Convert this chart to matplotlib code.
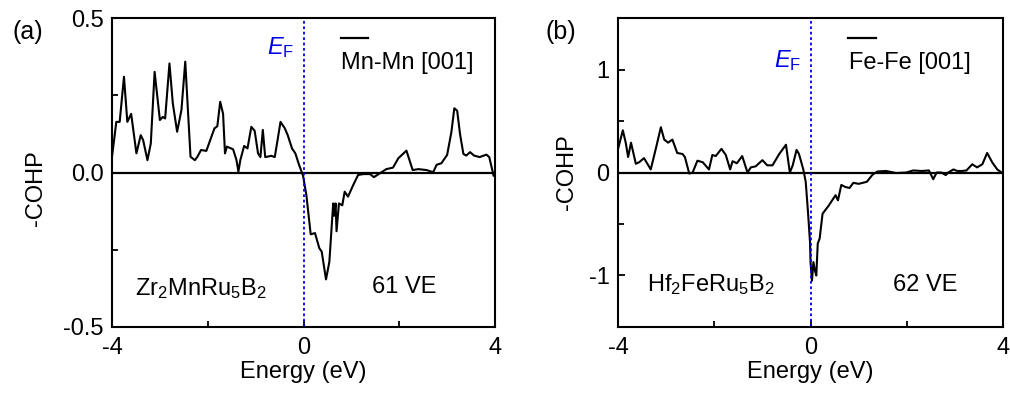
import numpy as np
import matplotlib
matplotlib.use('Agg')
import matplotlib.pyplot as plt
from matplotlib.ticker import MultipleLocator, FormatStrFormatter

plt.rcParams['font.family'] = ['Liberation Sans', 'DejaVu Sans']
plt.rcParams['mathtext.fontset'] = 'custom'
plt.rcParams['mathtext.rm'] = 'Liberation Sans'
plt.rcParams['mathtext.it'] = 'Liberation Sans:italic'
plt.rcParams['axes.unicode_minus'] = False

# -COHP of Mn-Mn [001] in Zr2MnRu5B2
energy_a = [-4.00, -3.91, -3.84, -3.75, -3.68, -3.60, -3.49, -3.40, -3.35, -3.26,
            -3.19, -3.11, -3.00, -2.94, -2.89, -2.80, -2.73, -2.64, -2.55, -2.47,
            -2.41, -2.36, -2.27, -2.22, -2.14, -2.03, -1.86, -1.80, -1.74, -1.68,
            -1.64, -1.60, -1.47, -1.40, -1.36, -1.32, -1.24, -1.17, -1.09, -1.02,
            -0.95, -0.90, -0.85, -0.80, -0.67, -0.60, -0.48, -0.39, -0.33, -0.24,
            -0.17, -0.10, -0.01, 0.06, 0.15, 0.24, 0.33, 0.38, 0.47, 0.54,
            0.62, 0.64, 0.67, 0.69, 0.74, 0.81, 0.86, 0.93, 1.04, 1.14,
            1.25, 1.39, 1.47, 1.60, 1.73, 1.87, 1.98, 2.15, 2.28, 2.40,
            2.57, 2.71, 2.78, 2.88, 3.00, 3.09, 3.15, 3.21, 3.27, 3.34,
            3.40, 3.48, 3.56, 3.68, 3.82, 3.88, 3.97]
cohp_a = [0.051, 0.164, 0.164, 0.310, 0.164, 0.190, 0.062, 0.121, 0.105, 0.040,
          0.094, 0.326, 0.170, 0.180, 0.175, 0.353, 0.224, 0.132, 0.202, 0.359,
          0.190, 0.051, 0.040, 0.050, 0.073, 0.070, 0.143, 0.150, 0.229, 0.190,
          0.062, 0.084, 0.075, 0.040, 0.003, 0.040, 0.086, 0.078, 0.148, 0.135,
          0.062, 0.050, 0.138, 0.050, 0.054, 0.050, 0.164, 0.143, 0.121, 0.078,
          0.062, 0.028, -0.010, -0.073, -0.200, -0.196, -0.245, -0.256, -0.346, -0.289,
          -0.100, -0.140, -0.100, -0.190, -0.100, -0.106, -0.062, -0.078, -0.040, -0.008,
          -0.005, -0.005, -0.015, -0.002, 0.011, 0.016, 0.046, 0.071, 0.008, 0.011,
          0.008, 0.001, 0.025, 0.030, 0.057, 0.132, 0.208, 0.200, 0.124, 0.060,
          0.055, 0.066, 0.055, 0.050, 0.058, 0.050, -0.010]

# -COHP of Fe-Fe [001] in Hf2FeRu5B2
energy_b = [-4.00, -3.96, -3.90, -3.84, -3.79, -3.73, -3.63, -3.56, -3.46, -3.32,
            -3.20, -3.11, -3.04, -2.96, -2.87, -2.77, -2.66, -2.61, -2.52, -2.45,
            -2.35, -2.24, -2.11, -2.04, -1.97, -1.85, -1.76, -1.67, -1.62, -1.53,
            -1.42, -1.31, -1.24, -1.14, -1.00, -0.90, -0.79, -0.65, -0.51, -0.43,
            -0.37, -0.29, -0.24, -0.15, -0.10, -0.05, -0.01, 0.00, 0.03, 0.06,
            0.09, 0.12, 0.15, 0.19, 0.25, 0.38, 0.52, 0.57, 0.64, 0.72,
            0.81, 0.89, 1.00, 1.17, 1.29, 1.39, 1.57, 1.78, 1.99, 2.13,
            2.31, 2.46, 2.55, 2.62, 2.72, 2.81, 2.86, 2.97, 3.05, 3.14,
            3.24, 3.36, 3.46, 3.57, 3.67, 3.78, 3.88, 3.97]
cohp_b = [0.23, 0.30, 0.41, 0.29, 0.15, 0.29, 0.085, 0.10, 0.14, 0.03,
          0.26, 0.44, 0.32, 0.29, 0.32, 0.19, 0.18, 0.15, -0.01, 0.00,
          0.115, 0.10, 0.03, 0.17, 0.16, 0.23, 0.17, 0.03, 0.11, 0.09,
          0.16, 0.00, 0.05, 0.06, 0.12, 0.07, 0.07, 0.18, 0.27, 0.00,
          0.07, 0.22, 0.18, 0.03, -0.09, -0.40, -0.68, -0.87, -1.05, -0.87,
          -0.95, -1.00, -0.69, -0.64, -0.40, -0.32, -0.22, -0.27, -0.12, -0.14,
          -0.15, -0.10, -0.11, -0.09, -0.02, 0.01, 0.015, -0.005, 0.00, 0.02,
          0.015, 0.02, -0.065, 0.00, 0.00, -0.025, 0.00, 0.03, 0.015, 0.015,
          0.02, 0.08, 0.05, 0.08, 0.19, 0.095, 0.03, 0.00]

fs = 17
blue = '#0000e6'

fig = plt.figure(figsize=(10.1, 3.93), dpi=100)
ax1 = fig.add_axes([0.1109, 0.168, 0.3792, 0.786])
ax2 = fig.add_axes([0.6119, 0.168, 0.3812, 0.786])

panels = [
    (ax1, energy_a, cohp_a, (-0.5, 0.5), 0.5, 0.25, '%.1f', 'Mn-Mn [001]',
     r'Zr$_2$MnRu$_5$B$_2$', '61 VE', (0.06, 0.126), (0.678, 0.13), 0.903,
     (-0.17, 0.45)),
    (ax2, energy_b, cohp_b, (-1.5, 1.5), 1.0, 0.5, '%d', 'Fe-Fe [001]',
     r'Hf$_2$FeRu$_5$B$_2$', '62 VE', (0.0745, 0.136), (0.713, 0.136), 0.864,
     (-0.105, 0.5)),
]

for ax, x, y, ylim, major, minor, fmt, bond, formula, ve, fpos, vpos, efy, ylc in panels:
    ax.plot(x, y, color='black', lw=1.5)
    ax.axhline(0, color='black', lw=1.6)
    ax.axvline(0, color=blue, lw=1.3, ls=(0, (1.5, 1.5)))
    ax.set_xlim(-4, 4)
    ax.set_ylim(*ylim)
    ax.xaxis.set_major_locator(MultipleLocator(4))
    ax.xaxis.set_minor_locator(MultipleLocator(2))
    ax.yaxis.set_major_locator(MultipleLocator(major))
    ax.yaxis.set_minor_locator(MultipleLocator(minor))
    ax.yaxis.set_major_formatter(FormatStrFormatter(fmt))
    ax.tick_params(which='both', direction='in', labelsize=fs, width=1.3)
    ax.tick_params(which='major', length=5)
    ax.tick_params(which='minor', length=4)
    ax.tick_params(axis='x', pad=7)
    ax.tick_params(axis='y', pad=6)
    for s in ax.spines.values():
        s.set_linewidth(1.5)
    ax.set_xlabel('Energy (eV)', fontsize=fs, labelpad=2)
    ax.set_ylabel('-COHP', fontsize=fs)
    ax.yaxis.set_label_coords(*ylc)

    # legend drawn as a short line above the bond label
    ax.plot([0.597, 0.669], [0.935, 0.935], color='black', lw=1.6,
            transform=ax.transAxes)
    ax.text(0.599, 0.855, bond, transform=ax.transAxes, fontsize=fs,
            ha='left', va='center')
    ax.text(0.475, efy, r'$\mathit{E}_\mathrm{F}$', transform=ax.transAxes,
            fontsize=fs, color=blue, ha='right', va='center')
    ax.text(fpos[0], fpos[1], formula, transform=ax.transAxes, fontsize=fs,
            ha='left', va='center')
    ax.text(vpos[0], vpos[1], ve, transform=ax.transAxes, fontsize=fs,
            ha='left', va='center')

fig.text(0.012, 0.919, '(a)', fontsize=fs + 1, ha='left', va='center')
fig.text(0.540, 0.919, '(b)', fontsize=fs + 1, ha='left', va='center')

fig.savefig('out.png', dpi=100)
